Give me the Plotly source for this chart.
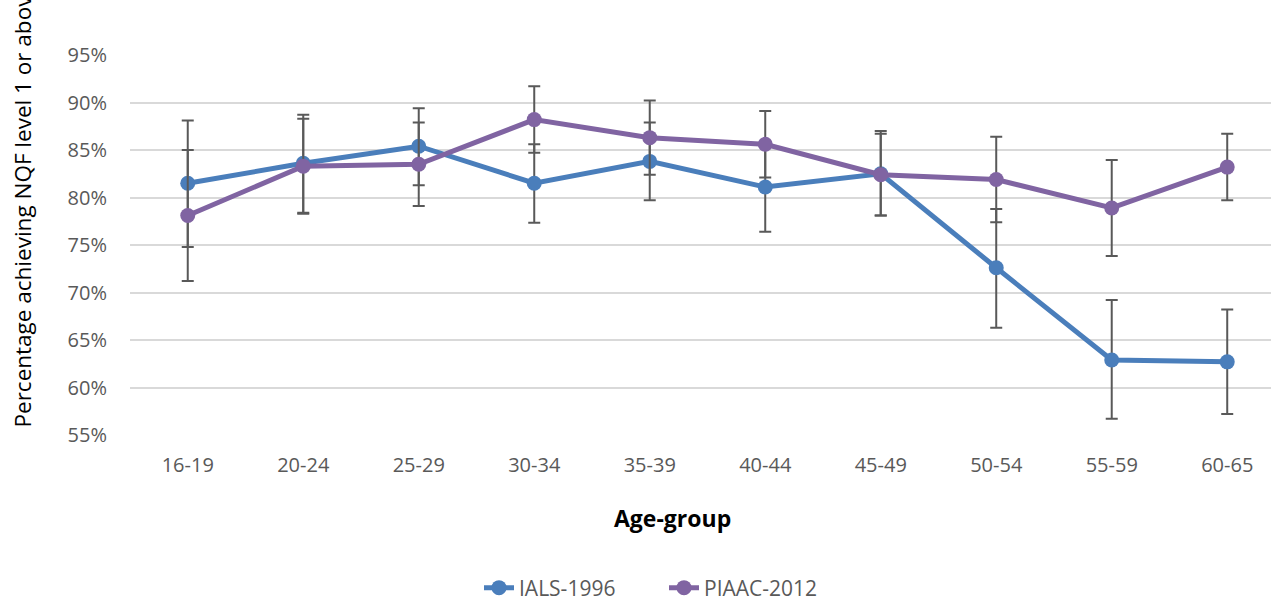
import plotly.graph_objects as go

age_groups = ["16-19", "20-24", "25-29", "30-34", "35-39", "40-44", "45-49", "50-54", "55-59", "60-65"]
ials_1996 = [81.5, 83.6, 85.4, 81.5, 83.8, 81.1, 82.5, 72.6, 62.9, 62.7]
ials_err_plus = [6.6, 5.1, 4.0, 4.1, 4.1, 4.7, 4.5, 6.2, 6.3, 5.5]
ials_err_minus = [6.7, 5.2, 4.1, 4.15, 4.1, 4.7, 4.4, 6.3, 6.2, 5.5]
piaac_2012 = [78.1, 83.3, 83.5, 88.2, 86.3, 85.6, 82.4, 81.9, 78.9, 83.2]
piaac_err = [6.9, 5.0, 4.4, 3.5, 3.9, 3.5, 4.3, 4.5, 5.05, 3.5]
y_ticks = [55, 60, 65, 70, 75, 80, 85, 90, 95]
y_tick_labels = [f"{v}%" for v in y_ticks]

FONT = "Open Sans"
ERR_COLOR = "#595959"
TICK_COLOR = "#595959"

fig = go.Figure()
fig.add_trace(go.Scatter(
    x=list(range(len(age_groups))), y=ials_1996, name="IALS-1996",
    mode="lines+markers",
    line=dict(color="#4A7EBB", width=5),
    marker=dict(color="#4A7EBB", size=15),
    error_y=dict(type="data", symmetric=False, array=ials_err_plus, arrayminus=ials_err_minus,
                 color=ERR_COLOR, thickness=2, width=6),
))
fig.add_trace(go.Scatter(
    x=list(range(len(age_groups))), y=piaac_2012, name="PIAAC-2012",
    mode="lines+markers",
    line=dict(color="#8064A2", width=5),
    marker=dict(color="#8064A2", size=15),
    error_y=dict(type="data", array=piaac_err, color=ERR_COLOR, thickness=2, width=6),
))

fig.update_layout(
    width=1271, height=601,
    margin=dict(l=130, r=0, t=55, b=166, autoexpand=False),
    paper_bgcolor="white", plot_bgcolor="white",
    font=dict(family=FONT, color=TICK_COLOR, size=20),
    showlegend=True,
    legend=dict(orientation="h", x=(664 - 130) / 1141, xanchor="center",
                y=-(588 - 435) / 380, yanchor="middle",
                font=dict(family=FONT, size=21, color=TICK_COLOR),
                entrywidth=140, tracegroupgap=0),
)
fig.update_xaxes(
    tickmode="array", tickvals=list(range(len(age_groups))), ticktext=age_groups,
    range=[-0.5, 9.379], showgrid=False, zeroline=False, showline=False,
    ticks="", ticklabelstandoff=16, tickfont=dict(size=20, color=TICK_COLOR),
    automargin=False, fixedrange=True,
)
fig.update_yaxes(
    range=[55, 95], tickmode="array", tickvals=y_ticks, ticktext=y_tick_labels,
    showgrid=True, gridcolor="#D9D9D9", gridwidth=1.5, zeroline=False, showline=False,
    ticks="", ticklabelstandoff=22, tickfont=dict(size=20, color=TICK_COLOR),
    automargin=False,
)

fig.add_annotation(
    text="Age-group", xref="paper", yref="paper",
    x=(672 - 130) / 1141, y=-(518 - 435) / 380, xanchor="center", yanchor="middle",
    showarrow=False, font=dict(family=FONT, size=23, color="black", weight="bold"),
)
fig.add_annotation(
    text="Percentage achieving NQF level 1 or above", xref="paper", yref="paper",
    x=-(130 - 22) / 1141, y=-(430 - 435) / 380, xanchor="center", yanchor="bottom",
    textangle=-90, showarrow=False, font=dict(family=FONT, size=22.5, color="black"),
)

fig.write_html("out.html", config={"displayModeBar": False},
               post_script="document.body.style.margin='0px';document.body.style.padding='0px';")
